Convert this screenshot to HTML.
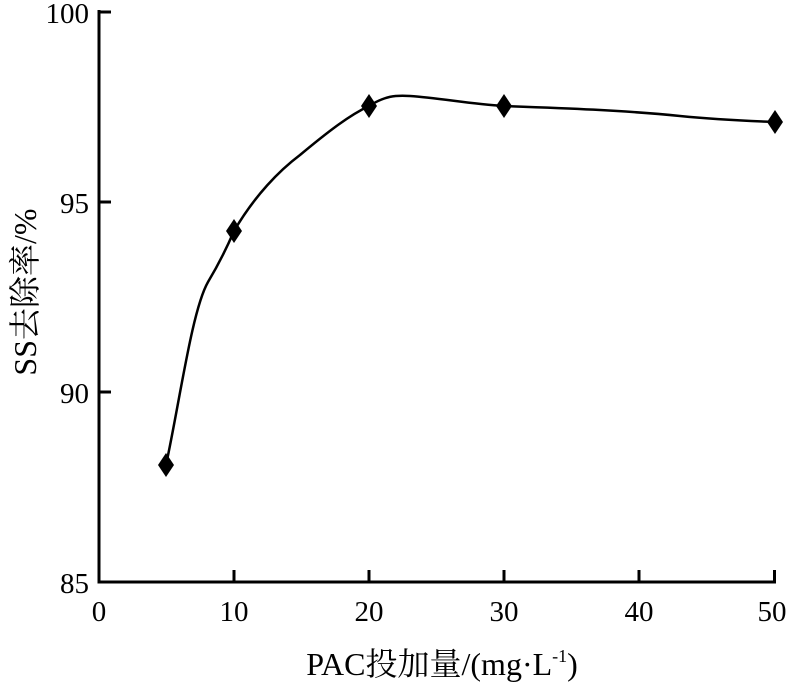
<!DOCTYPE html>
<html><head><meta charset="utf-8"><style>
body{margin:0;background:#fff;}
svg text{font-family:"Liberation Serif","Noto Serif CJK SC",serif;fill:#000;}
</style></head><body>
<svg width="804" height="691" viewBox="0 0 804 691" xmlns="http://www.w3.org/2000/svg">
<g stroke="#000" stroke-width="3" fill="none">
<line x1="99" y1="10" x2="99" y2="583.5"/>
<line x1="97.5" y1="582" x2="776" y2="582"/>
<line x1="99" y1="12" x2="111" y2="12"/>
<line x1="99" y1="202" x2="111" y2="202"/>
<line x1="99" y1="392" x2="111" y2="392"/>
<line x1="234" y1="582" x2="234" y2="570"/>
<line x1="369" y1="582" x2="369" y2="570"/>
<line x1="504" y1="582" x2="504" y2="570"/>
<line x1="639" y1="582" x2="639" y2="570"/>
<line x1="774.5" y1="582" x2="774.5" y2="570"/>
</g>
<path d="M166,465 C180,400 192,310 208,282 C220,262 228,245 234,231 C255,195 280,170 300,155 C330,130 350,115 369,106 C385,96 395,95 410,96 C440,98 470,104 504,106 C560,108 620,110 680,116 C720,120 750,121 775,122" stroke="#000" stroke-width="2.5" fill="none"/>
<g fill="#000">
<path d="M166,453 L174,465 L166,477 L158,465Z"/>
<path d="M234,219 L242,231 L234,243 L226,231Z"/>
<path d="M369,94 L377,106 L369,118 L361,106Z"/>
<path d="M504,94 L512,106 L504,118 L496,106Z"/>
<path d="M775,110 L783,122 L775,134 L767,122Z"/>
</g>
<g font-size="29" text-anchor="end">
<text x="89" y="23">100</text>
<text x="89" y="213">95</text>
<text x="89" y="403">90</text>
<text x="89" y="593">85</text>
</g>
<g font-size="29" text-anchor="middle">
<text x="99" y="621">0</text>
<text x="234" y="621">10</text>
<text x="369" y="621">20</text>
<text x="504" y="621">30</text>
<text x="639" y="621">40</text>
<text x="772" y="621">50</text>
</g>
<text x="442" y="675" font-size="32" text-anchor="middle">PAC投加量/(mg·L<tspan font-size="18" dy="-13">-1</tspan><tspan dy="13">)</tspan></text>
<text transform="translate(36,292) rotate(-90)" font-size="32" text-anchor="middle">SS去除率/%</text>
</svg>
</body></html>
